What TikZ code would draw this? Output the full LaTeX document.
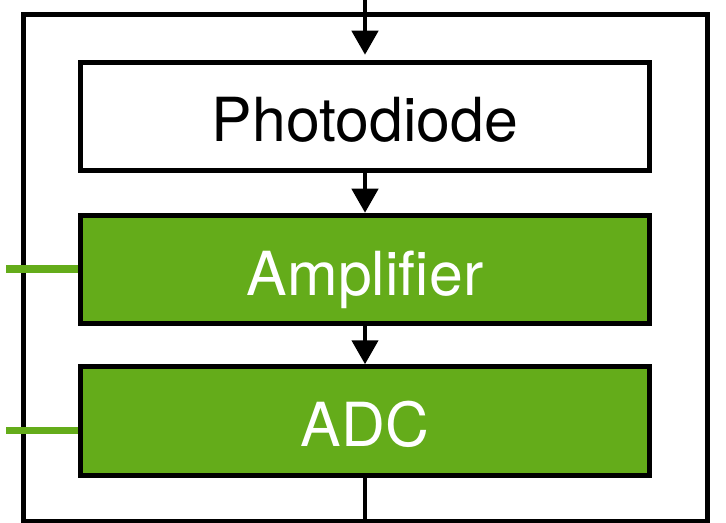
\documentclass[tikz,border=0pt]{standalone}
\usepackage{fontspec}
\setmainfont{TeX Gyre Heros}
\usetikzlibrary{arrows.meta}
\definecolor{boxgreen}{RGB}{100,172,26}
\tikzset{
  blockbox/.style={draw=black, line width=5bp, minimum width=569bp, minimum height=108.5bp,
    inner sep=0pt, font=\fontsize{61}{61}\selectfont, text height=51bp, text depth=0pt},
  flow/.style={line width=4.5bp, -{Triangle[width=26bp,length=24bp]}},
  plain/.style={line width=4.5bp},
  ctrl/.style={draw=boxgreen, line width=7bp},
}
\begin{document}
\begin{tikzpicture}[x=1bp, y=-1bp]
\useasboundingbox (0,0) rectangle (726,523);
\draw[line width=5bp] (23,15) rectangle (707.5,521);
\node[blockbox, fill=white, text=black] (pd) at (365,116.5) {Photodiode};
\node[blockbox, fill=boxgreen, text=white] (amp) at (365,269.5) {Amplifier};
\node[blockbox, fill=boxgreen, text=white] (adc) at (365,421) {ADC};
\coordinate (in) at (365,0);
\coordinate (out) at (365,521);
\draw[flow, shorten >=5bp] (in) -- (pd.north);
\draw[flow] (pd.south) -- (amp.north);
\draw[flow] (amp.south) -- (adc.north);
\draw[plain] (adc.south) -- (out);
\coordinate (g1) at (6,269);
\coordinate (g2) at (6,430.5);
\draw[ctrl] (g1) -- (g1 -| amp.west);
\draw[ctrl] (g2) -- (g2 -| adc.west);
\end{tikzpicture}
\end{document}
